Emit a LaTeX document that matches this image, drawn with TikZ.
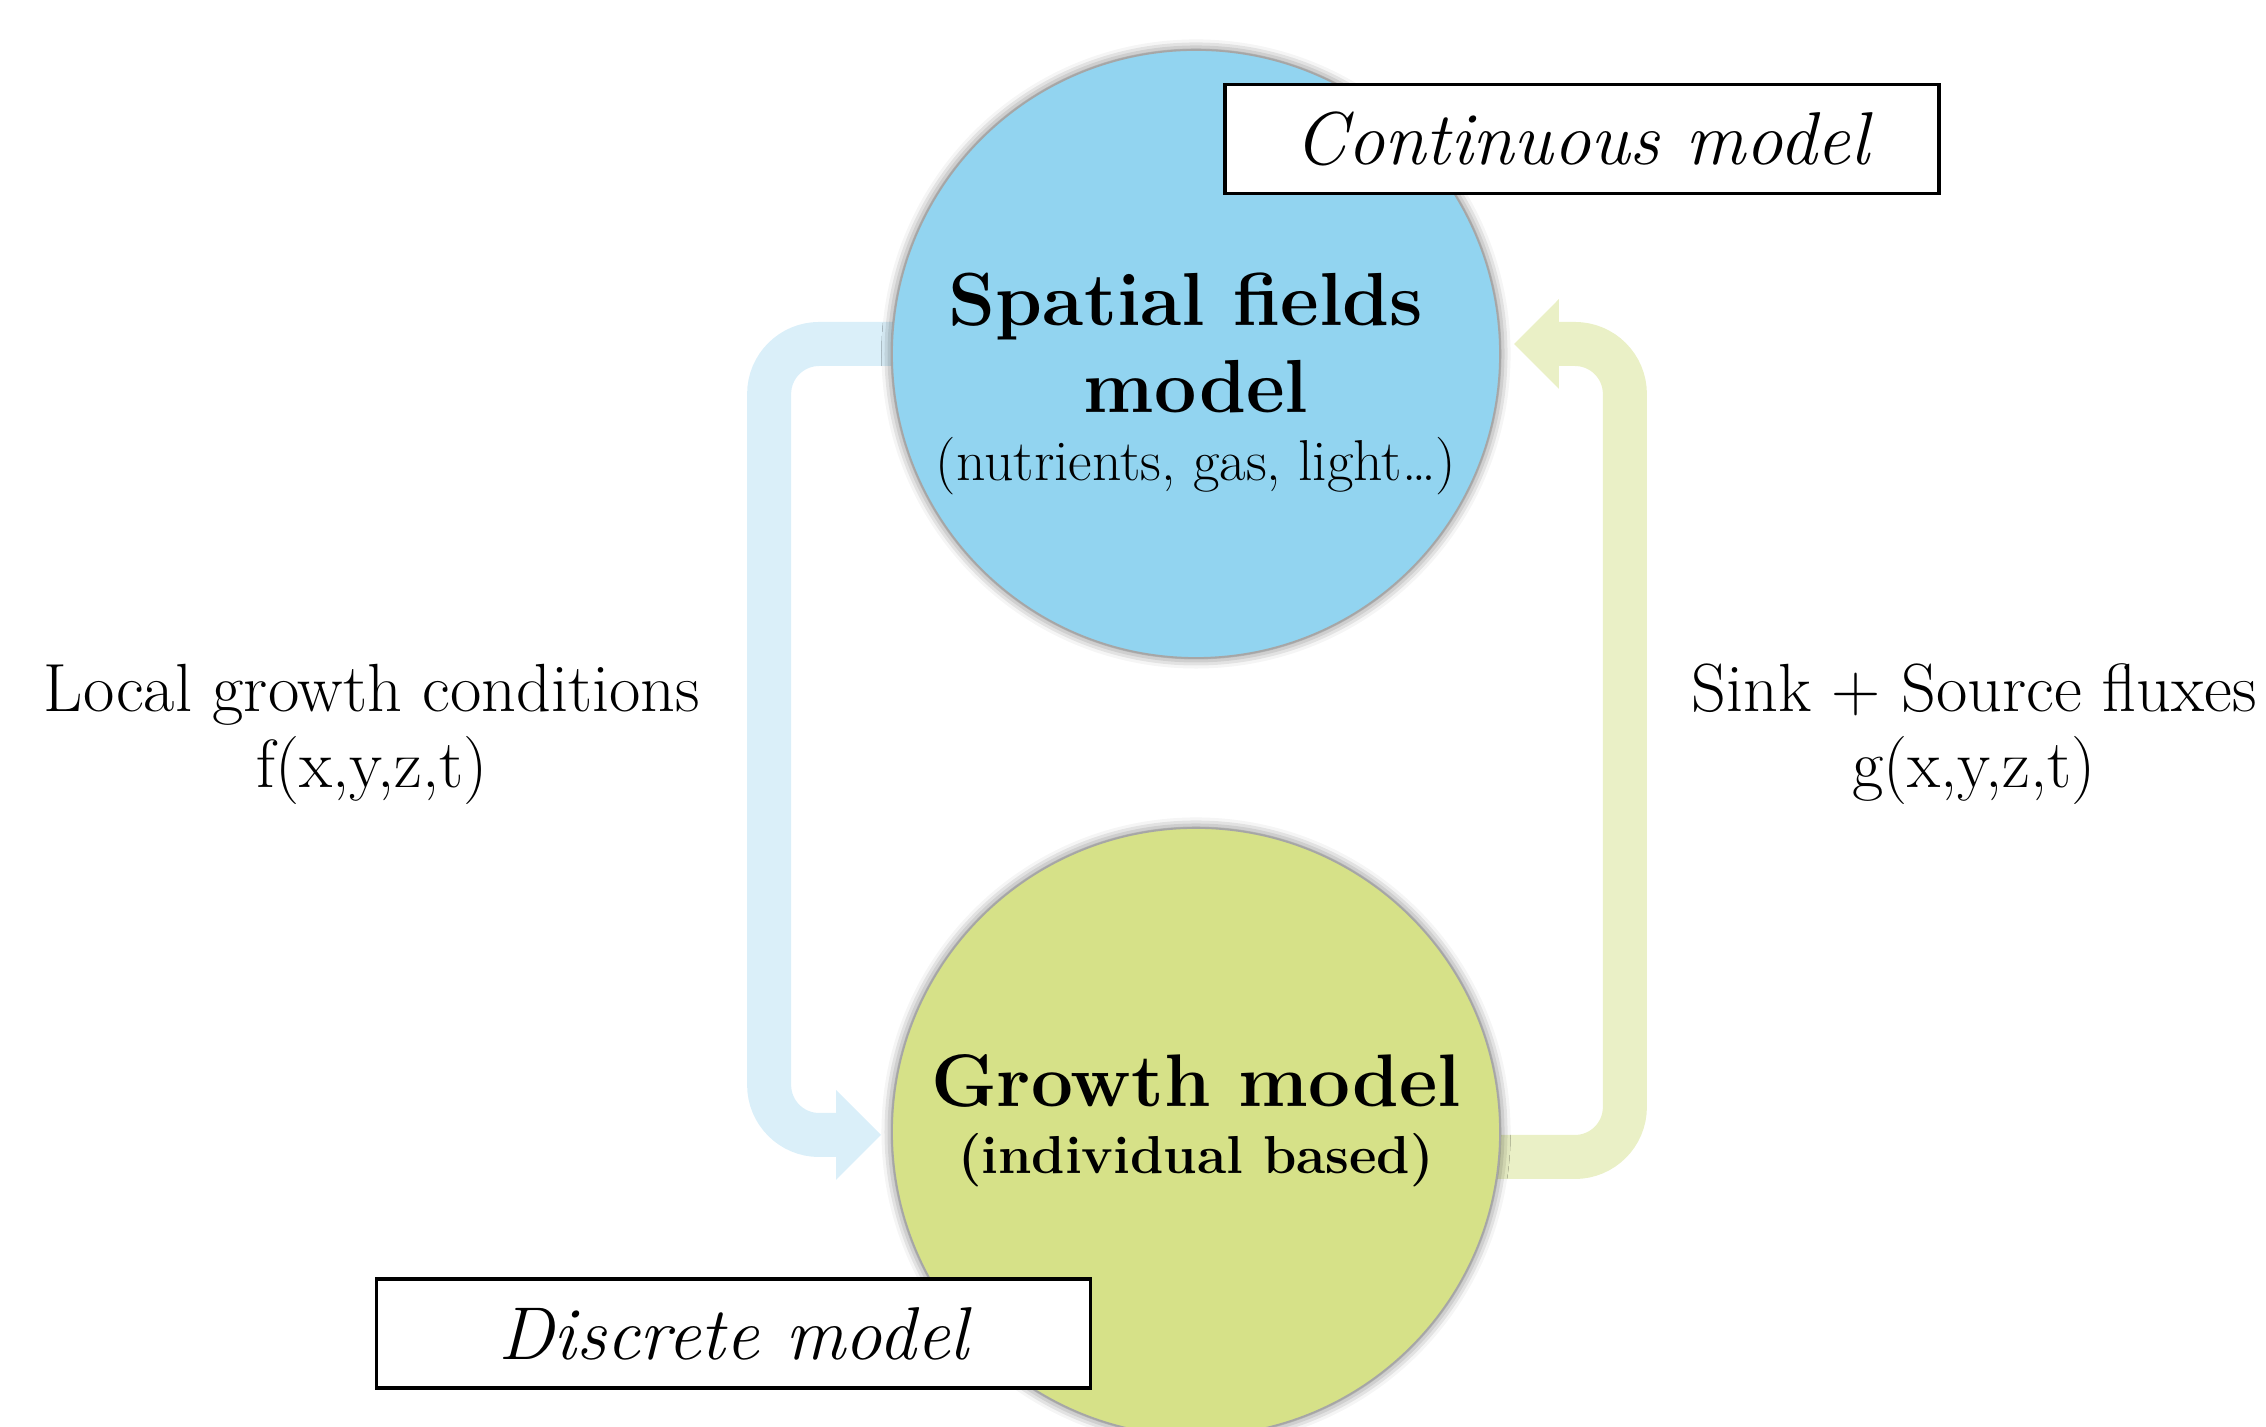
\documentclass[tikz,border=0pt]{standalone}
\usetikzlibrary{arrows.meta,shadows.blur,backgrounds}
\definecolor{fieldblue}{RGB}{146,212,240}
\definecolor{growthgreen}{RGB}{214,225,136}
\definecolor{flowblue}{RGB}{218,239,249}
\definecolor{flowgreen}{RGB}{234,240,198}
\begin{document}
\begin{tikzpicture}[align = center, node distance=77.8mm, thick,
        model/.style = {circle, minimum size=60.8mm, inner sep=0pt, draw=black!35, line width=0.5pt,
            blur shadow={shadow xshift=0pt, shadow yshift=0pt, shadow blur radius=3pt, shadow opacity=60}},
        tag/.style = {draw, fill=white, line width=0.9pt, minimum width=71.4mm, minimum height=10.9mm,
            font=\fontsize{21.3}{24}\selectfont\itshape},
        flux/.style = {line width=4.4mm, rounded corners=5mm, -{Triangle[length=4.5mm, width=8.7mm]}},
        lbl/.style = {font=\fontsize{19.4}{21.6}\selectfont}]
            \clip (0,0) rectangle (22.66,14.27);
            \node[model, fill=fieldblue] (fields) at (11.96,10.73) {};
            \node[model, fill=growthgreen] (growth) [below of=fields] {};
            \node[font=\fontsize{21.4}{24.7}\selectfont\bfseries] (fieldsTxt) at (11.96,10.43)
                {Spatial fields\hspace*{2mm}\\model\hspace*{2mm}\\[-5.1pt]{\fontsize{16.4}{17}\selectfont\mdseries (nutrients, gas, light…)}};
            \node[font=\fontsize{21.2}{24.7}\selectfont\bfseries] (growthTxt) at (11.96,3.06)
                {Growth model\\[-5.7pt]{\fontsize{15.2}{17}\selectfont (individual based)}};
            \node[lbl] (local) at (3.72,6.93) {Local growth conditions\\f(x,y,z,t)};
            \node[lbl] (sink) at (19.74,6.93) {Sink + Source fluxes\\g(x,y,z,t)};
            \node[tag] (continuous) at (15.82,12.88) {Continuous model};
            \node[tag] (discrete) at (7.335,0.935) {Discrete model};
            \begin{scope}[on background layer]
            \draw[flux, flowblue] ([xshift=4mm,yshift=1mm]fields.west) -- ([xshift=-12.2mm,yshift=1mm]fields.west)
                |- ([xshift=-1mm,yshift=-0.3mm]growth.west);
            \draw[flux, flowgreen] ([xshift=-4mm,yshift=-2.5mm]growth.east) -| ([xshift=12.4mm,yshift=1mm]fields.east)
                -- ([xshift=1.3mm,yshift=1mm]fields.east);
            \end{scope}
        \end{tikzpicture}
\end{document}
